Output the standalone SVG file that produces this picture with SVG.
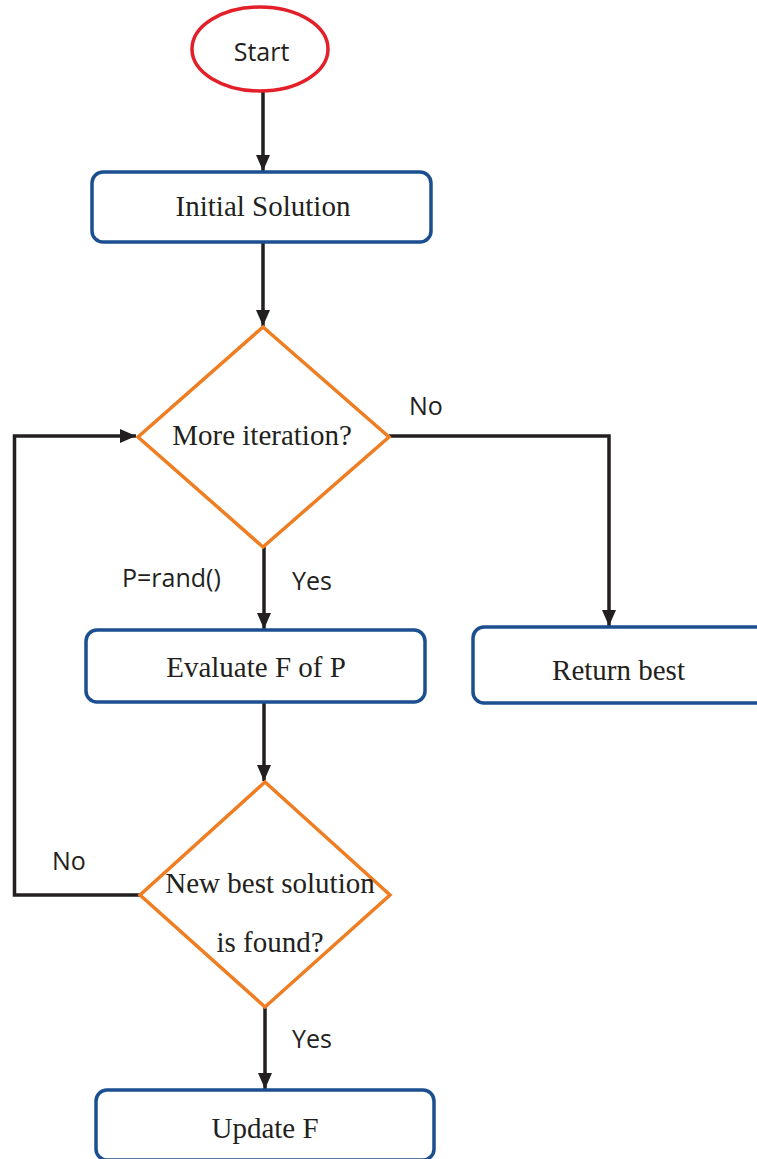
<svg xmlns="http://www.w3.org/2000/svg" width="757" height="1159" viewBox="0 0 757 1159">
  <style>
    .proc { fill: #ffffff; stroke: #1b4f8f; stroke-width: 3.5; }
    .dec { fill: #ffffff; stroke: #ef7d22; stroke-width: 3.5; stroke-linejoin: miter; }
    .term { fill: #ffffff; stroke: #e3202a; stroke-width: 3.5; }
    .edge { fill: none; stroke: #231f20; stroke-width: 3.5; }
    .serif { font-family: "Liberation Serif", "Times New Roman", serif; font-size: 29px; fill: #231f20; text-anchor: middle; }
    .sans { font-family: "Open Sans", "Noto Sans", sans-serif; font-size: 25px; fill: #231f20; }
  </style>
  <defs>
    <marker id="arrow" markerUnits="userSpaceOnUse" markerWidth="16" markerHeight="16" viewBox="0 0 16 14" refX="16" refY="7" orient="auto">
      <path d="M0,0 L16,7 L0,14 Z" fill="#231f20"/>
    </marker>
  </defs>

  <!-- connectors -->
  <g id="connectors">
    <path class="edge" d="M263,92 V171" marker-end="url(#arrow)"/>
    <path class="edge" d="M263,242 V326" marker-end="url(#arrow)"/>
    <path class="edge" d="M389,436 H609 V626" marker-end="url(#arrow)"/>
    <path class="edge" d="M264,547 V629" marker-end="url(#arrow)"/>
    <path class="edge" d="M264,702 V781" marker-end="url(#arrow)"/>
    <path class="edge" d="M140,895 H14.5 V436 H136" marker-end="url(#arrow)"/>
    <path class="edge" d="M265,1007 V1089" marker-end="url(#arrow)"/>
    <text class="sans" x="409" y="415">No</text>
    <text class="sans" x="122" y="587">P=rand()</text>
    <text class="sans" x="292" y="590">Yes</text>
    <text class="sans" x="52" y="870">No</text>
    <text class="sans" x="292" y="1048">Yes</text>
  </g>

  <!-- start terminal -->
  <g id="start">
    <ellipse class="term" cx="260" cy="49" rx="68" ry="42"/>
    <text class="sans" x="261.5" y="61" text-anchor="middle" font-size="26">Start</text>
  </g>

  <!-- initial solution -->
  <g id="initial">
    <rect class="proc" x="92" y="172" width="339" height="70" rx="11"/>
    <text class="serif" x="263" y="216">Initial Solution</text>
  </g>

  <!-- loop condition -->
  <g id="more-iteration">
    <polygon class="dec" points="263,327 389,437 263,547 138,437"/>
    <text class="serif" x="262" y="445">More iteration?</text>
  </g>

  <!-- evaluation step -->
  <g id="evaluate">
    <rect class="proc" x="86" y="630" width="339" height="72" rx="11"/>
    <text class="serif" x="256" y="677">Evaluate F of P</text>
  </g>

  <!-- final result -->
  <g id="return-best">
    <rect class="proc" x="473" y="627" width="300" height="76" rx="11"/>
    <text class="serif" x="618.5" y="680">Return best</text>
  </g>

  <!-- improvement check -->
  <g id="new-best">
    <polygon class="dec" points="265,782 390,895 265,1007 140,895"/>
    <text class="serif" x="270" y="893">New best solution</text>
    <text class="serif" x="270" y="952">is found?</text>
  </g>

  <!-- update step -->
  <g id="update">
    <rect class="proc" x="96" y="1090" width="338" height="70" rx="11"/>
    <text class="serif" x="265" y="1138">Update F</text>
  </g>
</svg>
